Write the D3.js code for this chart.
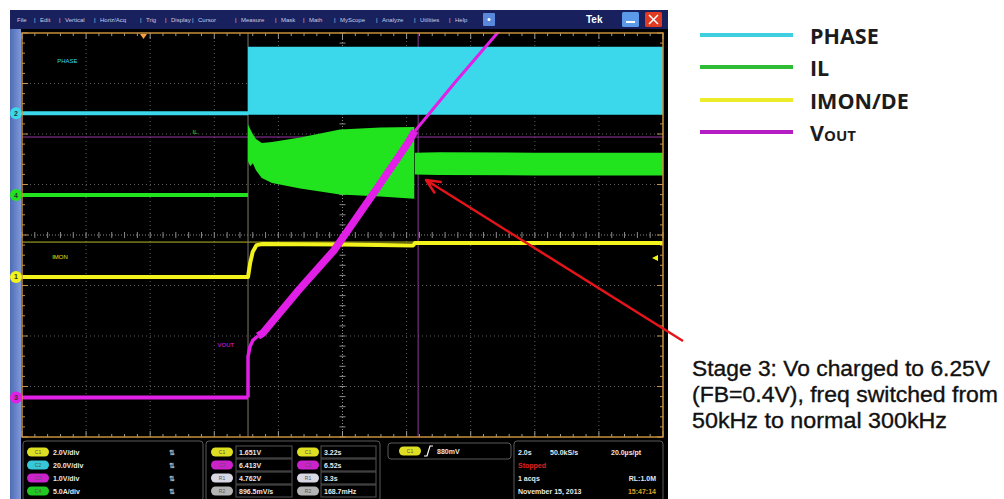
<!DOCTYPE html>
<html><head><meta charset="utf-8">
<script src="https://cdn.jsdelivr.net/npm/d3@7"></script>
<style>body{margin:0;background:#fff}svg{display:block}</style>
</head><body>
<svg id="c" width="1004" height="499"></svg>
<script>
// ---------- DATA (x in divisions 0..10, y in divisions -4..4) ----------
const menuItems = ["File","Edit","Vertical","Horiz/Acq","Trig","Display","Cursor","Measure","Mask","Math","MyScope","Analyze","Utilities","Help"];
const menuX = [17,40,65,100,146,171,198,241,281,309,340,382,420,455];
const legendLabels = ["PHASE","IL","IMON/DE","V"];
const legendColors = ["#3fcfe0","#2fbd35","#ecec2a","#b41cc4"];
const traceColors = {phase:"#3ad8ea", il:"#22e41e", imon:"#f2f21c", vout:"#e21fe6"};
const triggerT = 3.526;          // trigger position (div)
const switchT = 6.13;            // frequency switch (div)
const phaseBase = [[0,2.41],[3.526,2.41]];
const phaseBand = [[3.526,3.73,2.38],[10,3.73,2.38]];        // t, hi, lo
const ilBase = [[0,0.79],[3.526,0.79]];
const ilBandStart = [[3.526,2.19,1.46],[3.56,2.10,1.36],[3.60,2.00,1.42],[3.65,1.90,1.28],[3.74,1.82,1.13],
                     [3.90,1.84,1.03],[4.34,1.93,0.92],[4.96,2.09,0.80],[5.59,2.13,0.76],[6.12,2.14,0.72]];
const ilBandNormal = [[6.13,1.63,1.20],[6.5,1.64,1.19],[8,1.63,1.18],[10,1.63,1.18]];
const imonTrace = [[0,-0.83],[3.526,-0.83],[3.56,-0.55],[3.60,-0.33],[3.66,-0.2],[3.75,-0.18],[5.0,-0.19],[6.1,-0.21],[6.13,-0.16],[10,-0.16]];
const voutBase = [[0,-3.22],[3.526,-3.22]];
const voutStart = [[3.526,-3.22],[3.526,-2.41],[3.557,-2.21],[3.604,-2.08],[3.682,-2.0]];
const voutRamp = [[3.682,-2.0],[3.76,-1.94],[4.29,-1.13],[4.87,-0.30],[5.52,0.89],[6.02,1.82],[6.13,2.06]];
const voutTail = [[6.13,2.06],[6.78,3.06],[7.45,4.05]];
const cursorsH = [{y:1.94,c:"#9a34a8"},{y:-0.14,c:"#b8b826"}];
const cursorV = 6.18;
const chMarkers = [{y:2.41,c:"#3ad8ea",n:"2"},{y:0.79,c:"#22e41e",n:"4"},{y:-0.83,c:"#f2f21c",n:"1"},{y:-3.22,c:"#e21fe6",n:"3"}];
const traceLabels = [{t:"PHASE",x:0.55,y:3.40,c:"#3ad8ea"},{t:"IL",x:2.66,y:2.0,c:"#22e41e"},{t:"IMON",x:0.47,y:-0.47,c:"#e6e61c"},{t:"VOUT",x:3.05,y:-2.22,c:"#e21fe6"}];
const chBadge = ["#dede22","#36c8d8","#cc22cc","#22c822"];
const chScales = ["2.0V/div","20.0V/div","1.0V/div","5.0A/div"];
const measBadge = ["#dede22","#cc22cc","#d8d8e4","#b4b4b4"];
const measCol1 = ["1.651V","6.413V","4.762V","896.5mV/s"];
const measCol2 = ["3.22s","6.52s","3.3s","168.7mHz"];
const annotLines = ["Stage 3: Vo charged to 6.25V","(FB=0.4V), freq switched from","50kHz to normal 300kHz"];
const annotWidths = [298,306,255];

// ---------- SETUP ----------
const svg = d3.select("#c");
const x = d3.scaleLinear().domain([0,10]).range([22,663]);
const y = d3.scaleLinear().domain([-4,4]).range([437,33]);

// screenshot frame
svg.append("rect").attr("x",10).attr("y",10).attr("width",658).attr("height",489).attr("fill","#000");
const grad = svg.append("defs").append("linearGradient").attr("id","strip").attr("x1",0).attr("x2",1);
grad.append("stop").attr("offset",0).attr("stop-color","#4e6cb6");
grad.append("stop").attr("offset",1).attr("stop-color","#7f98d8");
svg.append("rect").attr("x",10).attr("y",29).attr("width",11).attr("height",470).attr("fill","url(#strip)");

// menu bar
svg.append("rect").attr("x",10).attr("y",10).attr("width",658).attr("height",19).attr("fill","#18205e");
const mg = svg.append("g").attr("font-family","Liberation Sans, Arial, sans-serif").attr("font-size",6).attr("fill","#c8cce4");
menuItems.forEach((m,i)=>{
  mg.append("text").attr("x",menuX[i]).attr("y",21.5).text(m);
  if(i<menuItems.length-1){
    mg.append("text").attr("x",menuX[i+1]-6).attr("y",21.5).text("|");
  }
});
svg.append("rect").attr("x",483).attr("y",13).attr("width",12).attr("height",13).attr("rx",1).attr("fill","#5a88dc");
svg.append("circle").attr("cx",489).attr("cy",19.5).attr("r",1.5).attr("fill","#fff");
svg.append("text").attr("x",586).attr("y",23).attr("font-family","Liberation Sans, Arial, sans-serif").attr("font-weight","bold").attr("font-size",10).attr("fill","#fff").text("Tek");
svg.append("rect").attr("x",622).attr("y",12).attr("width",17).attr("height",15).attr("rx",1.5).attr("fill","#5a9ae8");
svg.append("rect").attr("x",626).attr("y",21).attr("width",9).attr("height",2).attr("fill","#fff");
svg.append("rect").attr("x",645).attr("y",12).attr("width",17).attr("height",15).attr("rx",1.5).attr("fill","#e03a22");
svg.append("path").attr("d","M649,15 L658,24 M658,15 L649,24").attr("stroke","#fff").attr("stroke-width",1.5);

// plot background
svg.append("rect").attr("x",x(0)).attr("y",y(4)).attr("width",x(10)-x(0)).attr("height",y(-4)-y(4)).attr("fill","#000");

// grid
const grid = svg.append("g").attr("stroke","#5c5c5c").attr("stroke-width",1).attr("stroke-dasharray","1,3");
d3.range(1,10).forEach(i=>{ if(i!==5) grid.append("line").attr("x1",x(i)).attr("x2",x(i)).attr("y1",y(4)).attr("y2",y(-4)); });
d3.range(-3,4).forEach(j=>{ if(j!==0) grid.append("line").attr("y1",y(j)).attr("y2",y(j)).attr("x1",x(0)).attr("x2",x(10)); });
const cg = svg.append("g").attr("stroke","#8a8a8a").attr("stroke-width",1);
cg.append("line").attr("x1",x(5)).attr("x2",x(5)).attr("y1",y(4)).attr("y2",y(-4)).attr("stroke-dasharray","1,2");
cg.append("line").attr("y1",y(0)).attr("y2",y(0)).attr("x1",x(0)).attr("x2",x(10)).attr("stroke-dasharray","1,2");
d3.range(-4,4.01,0.2).forEach(j=>{ cg.append("line").attr("x1",x(5)-3).attr("x2",x(5)+3).attr("y1",y(j)).attr("y2",y(j)); });
d3.range(0,10.01,0.2).forEach(i=>{ cg.append("line").attr("y1",y(0)-3).attr("y2",y(0)+3).attr("x1",x(i)).attr("x2",x(i)); });
// edge ticks
const eg = svg.append("g").attr("stroke","#c89048").attr("stroke-width",1);
d3.range(-4,4.01,0.2).forEach(j=>{
  const L = Math.abs(j-Math.round(j))<0.01 ? 6 : 3;
  eg.append("line").attr("x1",x(0)).attr("x2",x(0)+L).attr("y1",y(j)).attr("y2",y(j));
  eg.append("line").attr("x1",x(10)).attr("x2",x(10)-L).attr("y1",y(j)).attr("y2",y(j));
});
const tg = svg.append("g").attr("stroke","#9a9a9a").attr("stroke-width",1);
d3.range(0,10.01,0.2).forEach(i=>{
  const L = Math.abs(i-Math.round(i))<0.01 ? 6 : 3;
  tg.append("line").attr("x1",x(i)).attr("x2",x(i)).attr("y1",y(4)).attr("y2",y(4)+L);
  tg.append("line").attr("x1",x(i)).attr("x2",x(i)).attr("y1",y(-4)).attr("y2",y(-4)-L);
});
// cursors
cursorsH.forEach(c=>svg.append("line").attr("x1",x(0)).attr("x2",x(10)).attr("y1",y(c.y)).attr("y2",y(c.y)).attr("stroke",c.c).attr("stroke-width",1));
svg.append("line").attr("x1",x(cursorV)).attr("x2",x(cursorV)).attr("y1",y(4)).attr("y2",y(-4)).attr("stroke","#8a3a96").attr("stroke-width",1);
svg.append("line").attr("x1",x(triggerT)).attr("x2",x(triggerT)).attr("y1",y(4)).attr("y2",y(-4)).attr("stroke","#7a7a6a").attr("stroke-width",1);

// traces
const line = d3.line().x(d=>x(d[0])).y(d=>y(d[1]));
const area = d3.area().x(d=>x(d[0])).y0(d=>y(d[2])).y1(d=>y(d[1]));
svg.append("path").attr("d",area(phaseBand)).attr("fill",traceColors.phase);
svg.append("path").attr("d",line(phaseBase)).attr("stroke",traceColors.phase).attr("stroke-width",4).attr("fill","none");
svg.append("path").attr("d",area(ilBandStart)).attr("fill",traceColors.il);
svg.append("path").attr("d",area(ilBandNormal)).attr("fill",traceColors.il);
svg.append("path").attr("d",line(ilBase)).attr("stroke",traceColors.il).attr("stroke-width",4).attr("fill","none");
svg.append("path").attr("d",line(imonTrace)).attr("stroke",traceColors.imon).attr("stroke-width",4).attr("fill","none").attr("stroke-linejoin","round");
svg.append("path").attr("d",line(voutBase)).attr("stroke",traceColors.vout).attr("stroke-width",4).attr("fill","none");
svg.append("path").attr("d",line(voutStart)).attr("stroke",traceColors.vout).attr("stroke-width",3.5).attr("fill","none").attr("stroke-linejoin","round");
svg.append("path").attr("d",line(voutRamp)).attr("stroke",traceColors.vout).attr("stroke-width",7.5).attr("fill","none").attr("stroke-linejoin","round");
svg.append("path").attr("d",line(voutTail)).attr("stroke",traceColors.vout).attr("stroke-width",3).attr("fill","none");

// re-draw plot border and clip overflow above top
svg.append("rect").attr("x",10).attr("y",29).attr("width",658).attr("height",y(4)-29-1).attr("fill","#000");
svg.append("rect").attr("x",10).attr("y",29).attr("width",11).attr("height",y(4)-29).attr("fill","url(#strip)");
svg.append("rect").attr("x",x(0)).attr("y",y(4)).attr("width",x(10)-x(0)).attr("height",y(-4)-y(4))
  .attr("fill","none").attr("stroke","#c8903c").attr("stroke-width",1.5);
// top trigger marker
svg.append("path").attr("d",`M${140},${y(4)+1} L${147},${y(4)+1} L${143.5},${y(4)+6} Z`).attr("fill","#f0a040");
// trigger level marker right
svg.append("path").attr("d",`M${652},${y(-0.455)} L${658},${y(-0.455)-3} L${658},${y(-0.455)+3} Z`).attr("fill","#f2f21c");

// channel markers
chMarkers.forEach(m=>{
  svg.append("circle").attr("cx",16).attr("cy",y(m.y)).attr("r",6).attr("fill",m.c);
  svg.append("text").attr("x",16).attr("y",y(m.y)+2.5).attr("text-anchor","middle").attr("font-family","Liberation Sans, Arial").attr("font-size",7).attr("font-weight","bold").attr("fill","#333").text(m.n);
});
// trace labels
traceLabels.forEach(l=>svg.append("text").attr("x",x(l.x)).attr("y",y(l.y)).attr("font-family","Liberation Sans, Arial").attr("font-size",6).attr("fill",l.c).text(l.t));

// ---------- STATUS AREA ----------
const sf = "Liberation Sans, Arial, sans-serif";
function panel(x0,y0,w,h){ svg.append("rect").attr("x",x0).attr("y",y0).attr("width",w).attr("height",h).attr("rx",3).attr("fill","#000").attr("stroke","#5a5a5a").attr("stroke-width",1); }
function badge(cx,cy,col,lab){
  svg.append("rect").attr("x",cx-11).attr("y",cy-4.5).attr("width",22).attr("height",9).attr("rx",4.5).attr("fill",col);
  svg.append("text").attr("x",cx).attr("y",cy+2).attr("text-anchor","middle").attr("font-family",sf).attr("font-size",5).attr("fill","#555").text(lab);
}
function stxt(x0,y0,t,col,anchor){ svg.append("text").attr("x",x0).attr("y",y0).attr("font-family",sf).attr("font-size",7).attr("font-weight","bold").attr("fill",col||"#e8e8e8").attr("text-anchor",anchor||"start").text(t); }
const rowsY = [452,465,478,491];
panel(23,441,180,60);
chScales.forEach((s,i)=>{ badge(38,rowsY[i],chBadge[i],"C"+(i+1)); stxt(53,rowsY[i]+2.5,s); stxt(172,rowsY[i]+2.5,"⇅","#bbb","middle"); });
panel(206,441,174,60);
measCol1.forEach((s,i)=>{
  badge(222,rowsY[i],measBadge[i],i<2?"C"+(i+1):"R"+(i-1));
  svg.append("rect").attr("x",236).attr("y",rowsY[i]-6).attr("width",56).attr("height",12).attr("fill","none").attr("stroke","#555");
  stxt(239,rowsY[i]+2.5,s);
  badge(308,rowsY[i],measBadge[i],i<2?"C"+(i+1):"R"+(i-1));
  svg.append("rect").attr("x",321).attr("y",rowsY[i]-6).attr("width",55).attr("height",12).attr("fill","none").attr("stroke","#555");
  stxt(324,rowsY[i]+2.5,measCol2[i]);
});
panel(388,443,123,16);
badge(410,451,"#dede22","C1");
svg.append("path").attr("d","M424,456 L427,456 L430,446 L433,446").attr("stroke","#fff").attr("stroke-width",1.2).attr("fill","none");
stxt(437,453.5,"880mV");
panel(514,441,149,60);
stxt(518,454.5,"2.0s"); stxt(550,454.5,"50.0kS/s"); stxt(611,454.5,"20.0µs/pt");
stxt(518,467.5,"Stopped","#e02020");
stxt(518,480.5,"1 acqs"); stxt(656,480.5,"RL:1.0M","#e8e8e8","end");
stxt(518,493.5,"November 15, 2013"); stxt(656,493.5,"15:47:14","#e0a020","end");

// ---------- LEGEND ----------
const legY = [35,67,100,132];
const lg = svg.append("g");
legendLabels.forEach((l,i)=>{
  lg.append("line").attr("x1",700).attr("x2",793).attr("y1",legY[i]).attr("y2",legY[i]).attr("stroke",legendColors[i]).attr("stroke-width",4);
  const t = lg.append("text").attr("x",810).attr("y",legY[i]+9).attr("font-family","Open Sans, sans-serif").attr("font-weight",700).attr("font-size",21.5).attr("fill","#1c1c1c").text(l);
  if(i===3) t.append("tspan").attr("font-size",15).text("OUT");
});

// ---------- ANNOTATION ----------
const ag = svg.append("g");
annotLines.forEach((l,i)=>{
  ag.append("text").attr("x",692).attr("y",376+i*26).attr("font-family","Liberation Sans, Arial, sans-serif").attr("font-size",21.5)
    .attr("fill","#111").attr("stroke","#111").attr("stroke-width",0.35)
    .attr("textLength",annotWidths[i]).attr("lengthAdjust","spacingAndGlyphs").text(l);
});
// red arrow
const ax0=683, ay0=341, ax1=426, ay1=180;
const ang = Math.atan2(ay1-ay0, ax1-ax0);
svg.append("line").attr("x1",ax0).attr("y1",ay0).attr("x2",ax1-Math.cos(ang)*8).attr("y2",ay1-Math.sin(ang)*8).attr("stroke","#e4141a").attr("stroke-width",2.5);
const hl=15, hw=0.42;
svg.append("path").attr("d",`M${ax1},${ay1} L${ax1-hl*Math.cos(ang-hw)},${ay1-hl*Math.sin(ang-hw)} M${ax1},${ay1} L${ax1-hl*Math.cos(ang+hw)},${ay1-hl*Math.sin(ang+hw)}`)
  .attr("stroke","#e4141a").attr("stroke-width",2.5).attr("fill","none").attr("stroke-linecap","round");
svg.append("line").attr("x1",ax1).attr("y1",ay1).attr("x2",ax1-10*Math.cos(ang)).attr("y2",ay1-10*Math.sin(ang)).attr("stroke","#e4141a").attr("stroke-width",2.5);
</script>
</body></html>
